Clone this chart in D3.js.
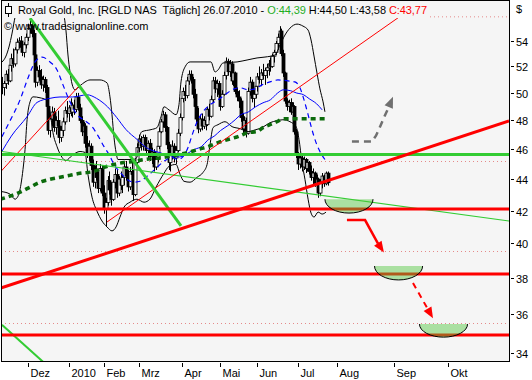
<!DOCTYPE html>
<html>
<head>
<meta charset="utf-8">
<script src="https://cdn.jsdelivr.net/npm/d3@7"></script>
<style>
  body { margin: 0; background: #fff; }
  svg text { font-family: "Liberation Sans", Arial, sans-serif; font-size: 11px; fill: #000; }
</style>
</head>
<body>
<svg id="chart" width="532" height="380"></svg>
<script>
// bar index 0 = 1 Dec 2009, one unit per trading day (calendar days after last bar)
const firstBar = -14;

// daily candles [open, high, low, close]
const candles = [
  [50.6,51.2,49.9,50.4],[50.4,50.9,49.8,50.7],[50.7,51.7,50.3,51.4],[51.4,51.8,50.6,50.9],
  [50.9,52.3,50.8,52.1],[52.1,53.0,51.6,52.6],[52.6,53.4,51.9,52.2],[52.2,53.5,52.0,53.3],
  [53.3,54.2,53.0,53.9],[53.9,54.3,53.4,54.0],[54.0,54.4,53.2,53.5],[53.5,54.0,52.8,53.1],
  [53.1,53.9,52.7,53.7],[53.7,54.6,53.4,54.3],[54.3,55.4,54.0,55.0],[55.0,55.8,54.6,55.3],
  [55.3,55.6,54.3,54.6],[54.6,54.9,52.6,52.9],[52.9,53.2,50.4,50.8],[50.8,52.0,50.5,51.7],
  [51.7,52.1,50.9,51.2],[51.2,51.8,50.3,50.6],[50.6,51.3,50.1,51.0],[51.0,51.2,50.0,50.4],
  [50.4,50.6,48.8,49.0],[49.0,49.4,47.0,47.3],[47.3,48.4,46.8,48.1],[48.1,49.0,47.6,48.6],
  [48.6,48.9,47.2,47.5],[47.5,48.3,47.0,48.0],[48.0,48.7,47.3,47.6],[47.6,47.9,46.4,46.8],
  [46.8,47.6,46.5,47.3],[47.3,48.2,46.9,47.9],[47.9,49.0,47.7,48.7],[48.7,49.4,48.2,48.5],
  [48.5,49.1,47.9,48.9],[48.9,49.6,48.3,48.6],[48.6,49.3,48.2,49.1],[49.1,49.5,48.4,48.8],
  [48.8,50.0,48.6,49.7],[49.7,50.0,48.7,48.9],[48.9,49.2,47.8,48.0],[48.0,48.3,46.9,47.2],
  [47.2,47.9,46.5,47.6],[47.6,47.8,46.1,46.4],[46.4,46.9,45.4,45.7],[45.7,46.6,45.2,46.2],
  [46.2,46.4,44.6,44.9],[44.9,45.3,43.5,43.8],[43.8,44.9,43.4,44.6],[44.6,45.2,43.9,44.1],
  [44.1,44.5,43.1,43.4],[43.4,45.0,43.2,44.7],[44.7,44.9,42.9,43.1],[43.1,43.6,41.8,42.1],
  [42.1,42.8,41.0,42.5],[42.5,44.2,42.3,43.9],[43.9,44.5,43.0,43.3],[43.3,43.8,42.3,42.7],
  [42.7,44.0,42.6,43.8],[43.8,44.7,43.4,44.3],[44.3,44.6,42.8,43.1],[43.1,44.2,42.9,44.0],
  [44.0,44.5,43.3,43.6],[43.6,44.3,43.1,44.1],[44.1,45.0,43.6,44.8],[44.8,45.2,43.9,44.2],
  [44.2,44.6,43.2,43.5],[43.5,44.8,43.3,44.5],[44.5,45.2,44.0,44.3],[44.3,44.6,42.6,43.0],
  [43.0,45.3,42.9,45.1],[45.1,46.4,44.9,46.1],[46.1,47.0,45.8,46.7],[46.7,46.9,45.9,46.2],
  [46.2,47.0,45.9,46.8],[46.8,47.0,46.0,46.3],[46.3,46.8,45.6,45.9],[45.9,46.6,45.3,46.4],
  [46.4,46.7,45.2,45.5],[45.5,46.1,45.0,45.8],[45.8,46.0,44.5,44.8],[44.8,45.6,44.6,45.3],
  [45.3,46.5,45.1,46.2],[46.2,47.5,46.0,47.2],[47.2,48.1,47.1,47.9],[47.9,48.7,47.5,48.4],
  [48.4,48.6,47.2,47.5],[47.5,47.6,46.0,46.3],[46.3,46.5,44.6,45.1],[45.1,46.0,44.5,45.7],
  [45.7,46.6,45.3,46.2],[46.2,46.4,45.1,45.4],[45.4,46.2,45.0,45.9],[45.9,47.4,45.8,47.1],
  [47.1,48.5,46.9,48.2],[48.2,49.9,48.0,49.6],[49.6,50.4,49.3,50.1],[50.1,50.6,49.4,49.8],
  [49.8,51.2,49.6,50.9],[50.9,51.7,50.6,51.4],[51.4,51.7,50.7,51.0],[51.0,51.2,49.6,49.9],
  [49.9,50.3,48.7,49.0],[49.0,49.5,47.8,48.1],[48.1,48.9,47.1,47.4],[47.4,48.4,47.2,48.1],
  [48.1,48.5,47.3,47.6],[47.6,48.3,47.4,48.0],[48.0,48.4,47.3,47.7],[47.7,49.0,47.6,48.8],
  [48.8,49.2,48.0,48.3],[48.3,49.8,48.2,49.5],[49.5,51.2,49.3,50.9],[50.9,51.2,50.0,50.3],
  [50.3,51.0,49.7,50.7],[50.7,50.9,49.6,49.9],[49.9,50.3,48.7,49.0],[49.0,50.2,48.9,49.9],
  [49.9,51.6,49.8,51.3],[51.3,52.7,51.0,52.4],[52.4,52.6,51.3,51.6],[51.6,52.5,51.2,52.2],
  [52.2,52.4,50.6,50.9],[50.9,51.7,50.5,51.5],[51.5,51.6,49.9,50.1],[50.1,50.4,49.4,49.7],
  [49.7,50.2,48.9,49.4],[49.4,49.6,47.9,48.2],[48.2,48.5,47.1,47.4],[47.4,48.3,47.2,48.0],
  [48.0,48.2,46.8,47.1],[47.1,50.4,47.0,50.1],[50.1,51.2,49.8,50.8],[50.8,51.0,49.3,49.6],
  [49.6,50.2,48.9,49.9],[49.9,50.8,49.6,50.5],[50.5,51.5,50.1,51.2],[51.2,52.0,50.7,51.0],
  [51.0,51.8,50.5,51.5],[51.5,52.2,51.0,51.3],[51.3,51.9,50.6,51.7],[51.7,52.2,51.1,51.9],
  [51.9,52.5,51.3,52.2],[52.2,52.7,51.6,52.0],[52.0,53.0,51.9,52.8],[52.8,53.3,52.3,53.1],
  [53.1,54.0,52.9,53.8],[53.8,54.6,53.3,54.3],[54.3,55.2,54.0,54.8],[54.8,55.0,52.8,53.0],
  [53.0,53.3,51.2,51.5],[51.5,51.6,49.2,49.4],[49.4,49.6,48.7,49.0],[49.0,49.5,48.6,49.3],
  [49.3,49.6,48.4,48.6],[48.6,49.3,48.3,49.0],[49.0,49.1,47.0,47.2],[47.2,47.4,45.4,45.6],
  [45.6,45.8,44.6,45.0],[45.0,45.7,44.7,45.4],[45.4,45.6,44.5,44.8],[44.8,45.5,44.6,45.3],
  [45.3,45.4,44.4,44.7],[44.7,45.3,44.5,45.1],[45.1,45.2,44.3,44.5],[44.5,44.9,43.9,44.1],
  [44.1,44.7,43.6,44.4],[44.4,44.5,43.5,43.7],[43.7,44.3,43.2,44.0],[44.0,44.1,42.8,43.1],
  [43.1,44.0,42.9,43.8],[43.8,44.4,43.4,44.2],[44.2,44.3,43.5,43.7],[43.7,44.5,43.6,44.39],
  [44.39,44.50,43.58,43.77]
];

const monthLabels = ["Dez", "2010", "Feb", "Mrz", "Apr", "Mai", "Jun", "Jul", "Aug", "Sep", "Okt"];
const monthIndex = [0, 22, 41, 60, 83, 104, 124, 146, 167, 198, 227];
const priceTicks = [34, 36, 38, 40, 42, 44, 46, 48, 50, 52, 54];

// indicator lines as [bar index, price]
const upperBand = [[-14.1,52.34],[-11.9,52.81],[-10.3,53.52],[-8.6,54.64],[-7,55.95],[-5.4,56.87],[-3.2,57.56],
  [1.1,57.9],[9.2,58.07],[14.6,57.81],[17.3,57.38],[18.9,56.53],[20.5,54.88],[21.6,52.89],[22.7,51.58],
  [23.8,50.67],[25.4,50.23],[28.1,50.53],[30.8,50.82],[33.5,50.97],[38.9,50.97],[42.7,50.75],[44.3,49.71],
  [45.4,48.41],[46.5,46.79],[47.6,45.78],[48.6,45.3],[52.4,45.3],[56.8,45.3],[58.9,45.44],[60,46.66],
  [61.6,47.21],[66.5,47.35],[69.7,47.49],[71.9,48.27],[73.5,48.98],[76.2,48.76],[80,48.41],[81.6,49.13],
  [82.7,50.82],[84.9,51.97],[87.6,52.35],[93.5,52.35],[98.9,52.35],[101.1,51.58],[102.7,51.73],[105.4,52.27],
  [113,52.35],[118.4,52.5],[123.8,52.66],[128.1,52.73],[133.5,52.89],[136.2,53.68],[138.9,54.48],[141.6,55.04],
  [145.4,55.37],[148.6,55.21],[151.4,54.88],[153,54.08],[154.6,52.81],[156.2,51.5],[157.8,50.3],[159.5,49.34],
  [160.5,48.62]];
const lowerBand = [[-14.1,43.19],[-9.7,43.03],[-7,42.71],[-5.4,42.9],[-3.8,43.67],[-2.7,44.64],[-1.6,45.98],
  [-0.5,48.05],[1.1,49.34],[2.7,49.71],[6.5,49.64],[9.7,49.49],[11.9,48.62],[13.5,47.14],[15.7,46.17],
  [18.4,45.44],[20.5,45.23],[23.8,45.57],[28.1,45.84],[30.8,45.78],[32.4,44.31],[34.6,42.84],[37.3,41.96],
  [40,41.35],[42.7,40.99],[45.4,40.75],[47.6,40.99],[49.7,41.59],[51.9,42.21],[55.1,42.52],[58.9,42.71],
  [62.7,42.52],[65.9,42.71],[69.2,43.48],[73.5,44.38],[76.2,44.84],[80,44.97],[82.2,44.31],[84.3,43.86],
  [87.6,43.8],[91.4,44.12],[94.6,44.44],[96.8,44.97],[98.4,46.31],[100,47.49],[102.7,47.7],[106.5,47.91],
  [110.3,47.56],[114.6,47.42],[118.9,47.21],[123.2,47.35],[126.5,47.49],[130.8,47.84],[134.6,47.98],
  [137.8,48.05],[141.6,47.91],[144.9,47.56],[146.5,46.66],[148.1,45.1],[149.7,43.99],[151.4,42.71],
  [153,41.84],[154.6,41.59],[156.8,41.9],[159,41.78],[161.1,41.9]];
const avgShort = [[-14.1,46.86],[-9.7,47.98],[-4.3,49.49],[0,51.12],[3.8,52.35],[7.6,52.73],[11.9,52.35],
  [15.7,51.73],[18.9,50.6],[22.7,49.34],[26.5,48.41],[30.8,47.98],[34.6,47.56],[37.8,46.93],[41.1,46.17],
  [43.8,45.64],[46.5,44.97],[50.3,44.38],[53.5,43.99],[57.3,43.8],[60.5,43.86],[64.3,44.18],[68.6,44.64],
  [74.1,45.23],[77.8,45.44],[81.1,45.3],[83.8,45.5],[86.5,46.11],[88.6,46.93],[91.4,47.91],[94.6,48.62],
  [98.4,49.13],[102.7,49.49],[106.5,49.86],[110.3,50.23],[114.6,50.38],[118.9,50.23],[122.7,50.3],
  [126.5,50.6],[130.8,50.82],[135.1,50.97],[140.5,50.9],[144.3,50.82],[147,50.38],[149.2,49.49],
  [151.4,48.41],[153.5,47.35],[155.7,46.45],[157.8,45.84],[160.5,45.3]];
const avgMid = [[-14.1,45.85],[-9,46.9],[-0.5,48.27],[4.9,49.3],[11.9,49.6],[17.3,49.7],[24,49.7],
  [32,49.86],[37,49.6],[43,48.98],[48,48.2],[53,47.35],[59,46.66],[64,46.1],[71,45.77],[82,45.47],
  [87,45.77],[90,45.98],[94,46.2],[97,46.6],[101,46.93],[104,47.28],[108,47.63],[112,48.05],[115,48.41],
  [119,48.6],[123,48.98],[127,49.27],[131,49.49],[135,50.0],[138,50.23],[142,50.16],[145,50.0],
  [149,49.86],[152,49.57],[156,49.2],[159,48.76]];
const avgLong = [[-15.1,42.71],[-9.7,42.9],[-4.3,43.16],[1.1,43.48],[6.5,43.8],[11.9,43.99],[17.3,44.12],
  [22.7,44.25],[28.1,44.38],[35.7,44.51],[41.1,44.77],[46.5,44.97],[51.9,45.1],[57.3,45.17],[62.7,45.3],
  [68.1,45.37],[73.5,45.44],[81.1,45.64],[86.5,45.77],[91.9,45.98],[97.3,46.17],[102.7,46.45],[108.1,46.66],
  [113.5,46.86],[118.9,47.14],[123.8,47.21],[127,47.49],[130.8,47.7],[134.6,47.91],[137.8,48.12],[160.5,48.12]];

// drawn analysis lines, [bar index, price] end points
const redTrend = [[-14.6, 37.44], [260, 47.96]];
const redThinA = [[-14.6, 44.51], [28.1, 50.6]];
const redThinB = [[42.7, 41.29], [217.3, 57.78]];
const greenDiag = [[1.1, 55.87], [82.7, 41.05]];
const greenDiagLow = [[-14.1, 35.45], [9.7, 33.43]];
const greenThin = [[-14.6, 45.85], [260, 41.35]];
const greenLevel = 45.64;
const redLevels = [42.09, 38.23, 34.92];
const dottedLevels = [45.23, 39.58, 35.55];
const topDotted = [[217.3, 55.97], [260, 55.97]];

// scenario sketch: bowls [centre index, rim price, bottom price] and arrows
const bowls = [[173.5, 42.71, 41.84], [200.3, 38.68, 37.89], [224.6, 35.49, 34.81]];
const grayArrow = [[175.1,46.52],[185.9,46.52],[188.1,46.93],[190.3,47.56],[192.4,48.2],[194.1,48.69],[197.3,49.71]];
const redArrow = [[172.4,41.41],[182.2,41.41],[186,40.63],[189.2,39.99],[192.4,39.47]];
const redDashArrow = [[208.1,37.72],[218.9,35.8]];

const title = ["Royal Gold, Inc. [RGLD NAS  Täglich] 26.07.2010 - ", "O:44,39", " H:44,50 L:43,58 ", "C:43,77"];

// ---------- drawing ----------
const svg = d3.select("#chart");
const plot = {left: 1, top: 0, right: 509, bottom: 361};

let x = d3.scaleLinear().domain([-14.6, 260]).range([plot.left, plot.right]);
let y = d3.scaleLog().domain([33.6, 57.385]).range([plot.bottom, plot.top]);

svg.append("rect").attr("width", 532).attr("height", 380).attr("fill", "#fff");
svg.append("rect")
  .attr("x", plot.left + 0.5).attr("y", plot.top + 0.5)
  .attr("width", plot.right - plot.left).attr("height", plot.bottom - plot.top)
  .attr("fill", "#f5f5f5");

svg.append("clipPath").attr("id", "clip")
  .append("rect")
  .attr("x", plot.left + 1).attr("y", plot.top + 1)
  .attr("width", plot.right - plot.left - 1).attr("height", plot.bottom - plot.top - 1);

let g = svg.append("g").attr("clip-path", "url(#clip)");

let line = d3.line().x(d => x(d[0])).y(d => y(d[1]));
let smooth = d3.line().x(d => x(d[0])).y(d => y(d[1])).curve(d3.curveMonotoneX);

// dotted level lines
dottedLevels.forEach(p => {
  g.append("line")
    .attr("x1", plot.left).attr("x2", plot.right)
    .attr("y1", Math.round(y(p)) + 0.5).attr("y2", Math.round(y(p)) + 0.5)
    .attr("stroke", "#e58a8a").attr("stroke-dasharray", "1,3");
});
g.append("path").attr("d", line(topDotted))
  .attr("stroke", "#e58a8a").attr("stroke-dasharray", "1,3").attr("fill", "none");

// candles
let candleG = g.append("g");
candles.forEach((c, k) => {
  let cx = Math.round(x(firstBar + k)) + 0.5;
  let up = c[3] >= c[0];
  candleG.append("line")
    .attr("x1", cx).attr("x2", cx)
    .attr("y1", y(c[1])).attr("y2", y(c[2]))
    .attr("stroke", "#000");
  let top = y(Math.max(c[0], c[3]));
  let bottom = y(Math.min(c[0], c[3]));
  candleG.append("rect")
    .attr("x", cx - 1.5).attr("y", top)
    .attr("width", 3).attr("height", Math.max(1, bottom - top))
    .attr("fill", up ? "#fff" : "#000")
    .attr("stroke", "#000").attr("stroke-width", 0.8);
});

// indicators
g.append("path").attr("d", smooth(upperBand)).attr("fill", "none").attr("stroke", "#000").attr("stroke-width", 1);
g.append("path").attr("d", smooth(lowerBand)).attr("fill", "none").attr("stroke", "#000").attr("stroke-width", 1);
g.append("path").attr("d", smooth(avgMid)).attr("fill", "none").attr("stroke", "#0000ff").attr("stroke-width", 1);
g.append("path").attr("d", smooth(avgShort)).attr("fill", "none").attr("stroke", "#0000ff")
  .attr("stroke-width", 1.2).attr("stroke-dasharray", "5,4");
g.append("path").attr("d", smooth(avgLong)).attr("fill", "none").attr("stroke", "#0b6a0b")
  .attr("stroke-width", 3.5).attr("stroke-dasharray", "5,4");

// trend lines
function trend(pts, color, width) {
  g.append("path").attr("d", line(pts)).attr("fill", "none")
    .attr("stroke", color).attr("stroke-width", width);
}
trend(greenThin, "#33cc33", 1.2);
trend(redThinA, "#ff0000", 1);
trend(redThinB, "#ff0000", 1);
trend([[-15, greenLevel], [260, greenLevel]], "#33cc33", 3);
trend(greenDiag, "#33cc33", 3);
trend(greenDiagLow, "#33cc33", 2);
redLevels.forEach(p => trend([[-15, p], [260, p]], "#ff0000", 3));
trend(redTrend, "#ff0000", 3);

// bowls
bowls.forEach(b => {
  let x0 = x(b[0] - 13), x1 = x(b[0] + 13);
  let rim = y(b[1]), depth = y(b[2]) - y(b[1]);
  let rx = (x1 - x0) / 2;
  let arc = `M${x0},${rim} A${rx},${depth} 0 0 0 ${x1},${rim}`;
  g.append("path").attr("d", arc + "Z").attr("fill", "rgba(80,200,60,0.45)").attr("stroke", "none");
  g.append("path").attr("d", arc).attr("fill", "none").attr("stroke", "#000").attr("stroke-width", 1);
});

// arrows
function arrow(pts, color, width, dash) {
  let px = pts.map(d => [x(d[0]), y(d[1])]);
  let tip = px[px.length - 1];
  let prev = px[px.length - 2];
  let ang = Math.atan2(tip[1] - prev[1], tip[0] - prev[0]);
  let len = 11, half = 4.5;
  let base = [tip[0] - len * Math.cos(ang), tip[1] - len * Math.sin(ang)];
  let shaft = px.slice(0, -1).concat([base]);
  g.append("path").attr("d", d3.line()(shaft)).attr("fill", "none")
    .attr("stroke", color).attr("stroke-width", width)
    .attr("stroke-dasharray", dash);
  let nx = -Math.sin(ang), ny = Math.cos(ang);
  g.append("path")
    .attr("d", d3.line()([tip, [base[0] + nx * half, base[1] + ny * half], [base[0] - nx * half, base[1] - ny * half]]) + "Z")
    .attr("fill", color);
}
arrow(grayArrow, "#707070", 2.5, "7,5");
arrow(redArrow, "#ff0000", 2.5, null);
arrow(redDashArrow, "#ff0000", 2, "6,5");

// frame
svg.append("rect")
  .attr("x", plot.left + 0.5).attr("y", plot.top + 0.5)
  .attr("width", plot.right - plot.left).attr("height", plot.bottom - plot.top)
  .attr("fill", "none").attr("stroke", "#000");

// title block
svg.append("rect").attr("x", 2).attr("y", 1).attr("width", 427).attr("height", 17).attr("fill", "#f5f5f5");
svg.append("line").attr("x1", 8.5).attr("x2", 8.5).attr("y1", 3).attr("y2", 17).attr("stroke", "#000");
svg.append("rect").attr("x", 5.5).attr("y", 6.5).attr("width", 6).attr("height", 7).attr("fill", "#fff").attr("stroke", "#000");

let titleText = svg.append("text").attr("x", 18).attr("y", 14)
  .attr("xml:space", "preserve")
  .attr("textLength", 409).attr("lengthAdjust", "spacing");
let titleColors = ["#000", "#1fae1f", "#000", "#ff0000"];
title.forEach((t, k) => titleText.append("tspan").attr("fill", titleColors[k]).text(t));

svg.append("text").attr("x", 4).attr("y", 30).attr("fill", "#222").text("© www.tradesignalonline.com");
svg.append("text").attr("x", 516).attr("y", 13).text("$");

// price axis
let yAxis = svg.append("g");
priceTicks.forEach(p => {
  let py = Math.round(y(p)) + 0.5;
  yAxis.append("line").attr("x1", 511).attr("x2", 514).attr("y1", py).attr("y2", py).attr("stroke", "#000");
  yAxis.append("text").attr("x", 516).attr("y", py + 4).text(p);
});

// time axis
let xAxis = svg.append("g");
monthLabels.forEach((m, k) => {
  let px = Math.round(x(monthIndex[k])) + 0.5;
  xAxis.append("line").attr("x1", px).attr("x2", px).attr("y1", 363).attr("y2", 367).attr("stroke", "#000");
  xAxis.append("text").attr("x", px + 2).attr("y", 377).text(m);
});
</script>
</body>
</html>
